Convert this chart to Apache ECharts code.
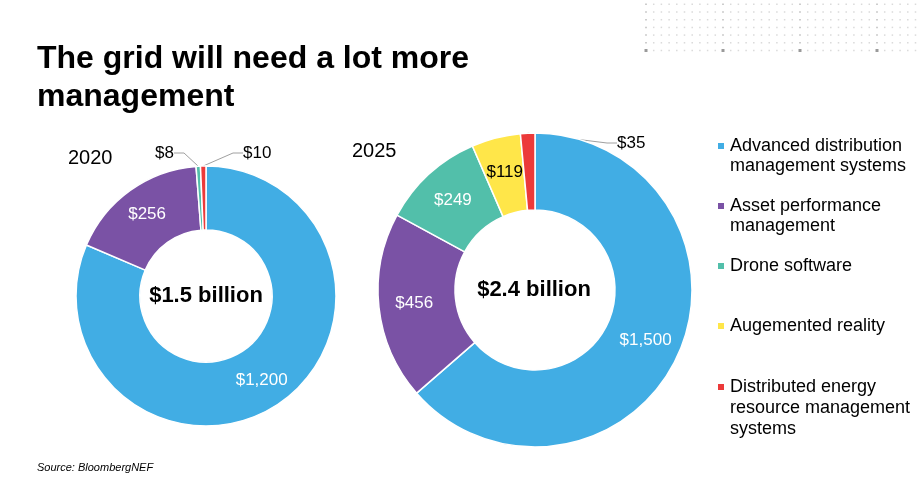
<!DOCTYPE html>
<html>
<head>
<meta charset="utf-8">
<script src="https://cdn.jsdelivr.net/npm/echarts@6/dist/echarts.min.js"></script>
<style>html,body{margin:0;padding:0;background:#fff}#c{width:923px;height:480px}</style>
</head>
<body>
<div id="c"></div>
<script>
var categories = ['Advanced distribution management systems', 'Asset performance management', 'Drone software', 'Augemented reality', 'Distributed energy resource management systems'];
var legendLabels = ['Advanced distribution\nmanagement systems', 'Asset performance\nmanagement', 'Drone software', 'Augemented reality', 'Distributed energy\nresource management\nsystems'];
var values2020 = [1200, 256, 8, 0, 10];
var values2025 = [1500, 456, 249, 119, 35];
var totalLabels = ['$1.5 billion', '$2.4 billion'];
var yearLabels = ['2020', '2025'];
var colors = ['#41ADE4', '#7A52A5', '#52BFAA', '#FFE649', '#EC3A3A'];

var FONT = '"Liberation Sans", Arial, sans-serif';
var chart = echarts.init(document.getElementById('c'), null, {renderer: 'canvas'});

function fmt(v) { return '$' + v.toLocaleString('en-US'); }

// outside labels for tiny slices: category index -> label placement
var outside2020 = {2: {x: 174, y: 153, align: 'right'}, 4: {x: 243, y: 153, align: 'left'}};
var outside2025 = {4: {x: 617, y: 143, align: 'left'}};

function buildData(values, outside) {
  var out = [];
  values.forEach(function (v, i) {
    if (!v) return;
    var item = {name: categories[i], value: v, itemStyle: {color: colors[i]}, catIndex: i};
    if (outside[i]) {
      item.label = {position: 'outside', color: '#000'};
      item.labelLine = {show: true, length: 10, length2: 10, lineStyle: {color: '#A0A0A0', width: 1}};
    } else {
      item.label = {position: 'inside', color: i === 3 ? '#000' : '#fff'};
      item.labelLine = {show: false};
    }
    out.push(item);
  });
  return out;
}
var data2020 = buildData(values2020, outside2020);
var data2025 = buildData(values2025, outside2025);

function makeLayout(data, outside) {
  return function (params) {
    var it = data[params.dataIndex];
    var o = outside[it.catIndex];
    if (!o) return {};
    return {x: o.x, y: o.y, align: o.align, verticalAlign: 'middle'};
  };
}

function pieSeries(data, center, radius, outside) {
  return {
    type: 'pie',
    center: center,
    radius: radius,
    startAngle: 90,
    clockwise: true,
    avoidLabelOverlap: false,
    silent: true,
    itemStyle: {borderColor: '#fff', borderWidth: 1.5},
    label: {show: true, formatter: function (p) { return fmt(p.value); }, fontSize: 17, fontFamily: FONT},
    labelLayout: makeLayout(data, outside),
    data: data
  };
}

// legend: icon aligned with first text line by padding the text block with leading blank lines
var legendIconY = [146, 206, 266, 326, 387];
var legends = categories.map(function (name, i) {
  var lines = legendLabels[i].split('\n').length;
  var lh = i === 4 ? 21 : 20;
  var pad = new Array(lines).join('\n');
  var boxH = (2 * lines - 1) * lh;
  return {
    orient: 'vertical',
    left: 716,
    top: legendIconY[i] - boxH / 2,
    padding: 0,
    itemWidth: 8,
    itemHeight: 8,
    icon: 'rect',
    selectedMode: false,
    data: [name],
    formatter: function () { return pad + legendLabels[i]; },
    textStyle: {fontSize: 18, lineHeight: lh, color: '#000', fontFamily: FONT}
  };
});

// decorative dot grid (top right)
var dots = [];
for (var r = 0; r < 7; r++) {
  for (var c = 0; c < 36; c++) {
    var major = c % 10 === 0;
    var big = major && r === 6;
    var s = big ? 3 : 1.5;
    dots.push({
      type: 'rect',
      shape: {x: 646 + c * 7.7 - s / 2, y: 4.3 + r * 7.7 - s / 2, width: s, height: s},
      style: {fill: big ? '#9a9a9a' : (major ? '#bcbcbc' : '#dadada')},
      silent: true
    });
  }
}

var option = {
  backgroundColor: '#fff',
  animation: false,
  title: [{
    text: 'The grid will need a lot more\nmanagement',
    left: 37, top: 40, padding: 0,
    textStyle: {fontSize: 32, fontWeight: 'bold', lineHeight: 38, color: '#000', fontFamily: FONT}
  }],
  legend: legends,
  graphic: [
    {type: 'group', children: dots},
    {type: 'text', left: 68, top: 148, style: {text: yearLabels[0], fontSize: 20, fill: '#000', fontFamily: FONT}},
    {type: 'text', left: 352, top: 141, style: {text: yearLabels[1], fontSize: 20, fill: '#000', fontFamily: FONT}},
    {type: 'text', x: 206, y: 296, style: {text: totalLabels[0], fontSize: 22, fontWeight: 'bold', fill: '#000', align: 'center', verticalAlign: 'middle', fontFamily: FONT}},
    {type: 'text', x: 534, y: 290, style: {text: totalLabels[1], fontSize: 22, fontWeight: 'bold', fill: '#000', align: 'center', verticalAlign: 'middle', fontFamily: FONT}},
    {type: 'text', left: 37, top: 462, style: {text: 'Source: BloombergNEF', fontSize: 11, fontStyle: 'italic', fill: '#000', fontFamily: FONT}}
  ],
  series: [
    pieSeries(data2020, [206, 296], [66, 130], outside2020),
    pieSeries(data2025, [535, 290], [80, 157], outside2025)
  ]
};
chart.setOption(option);
</script>
</body>
</html>
